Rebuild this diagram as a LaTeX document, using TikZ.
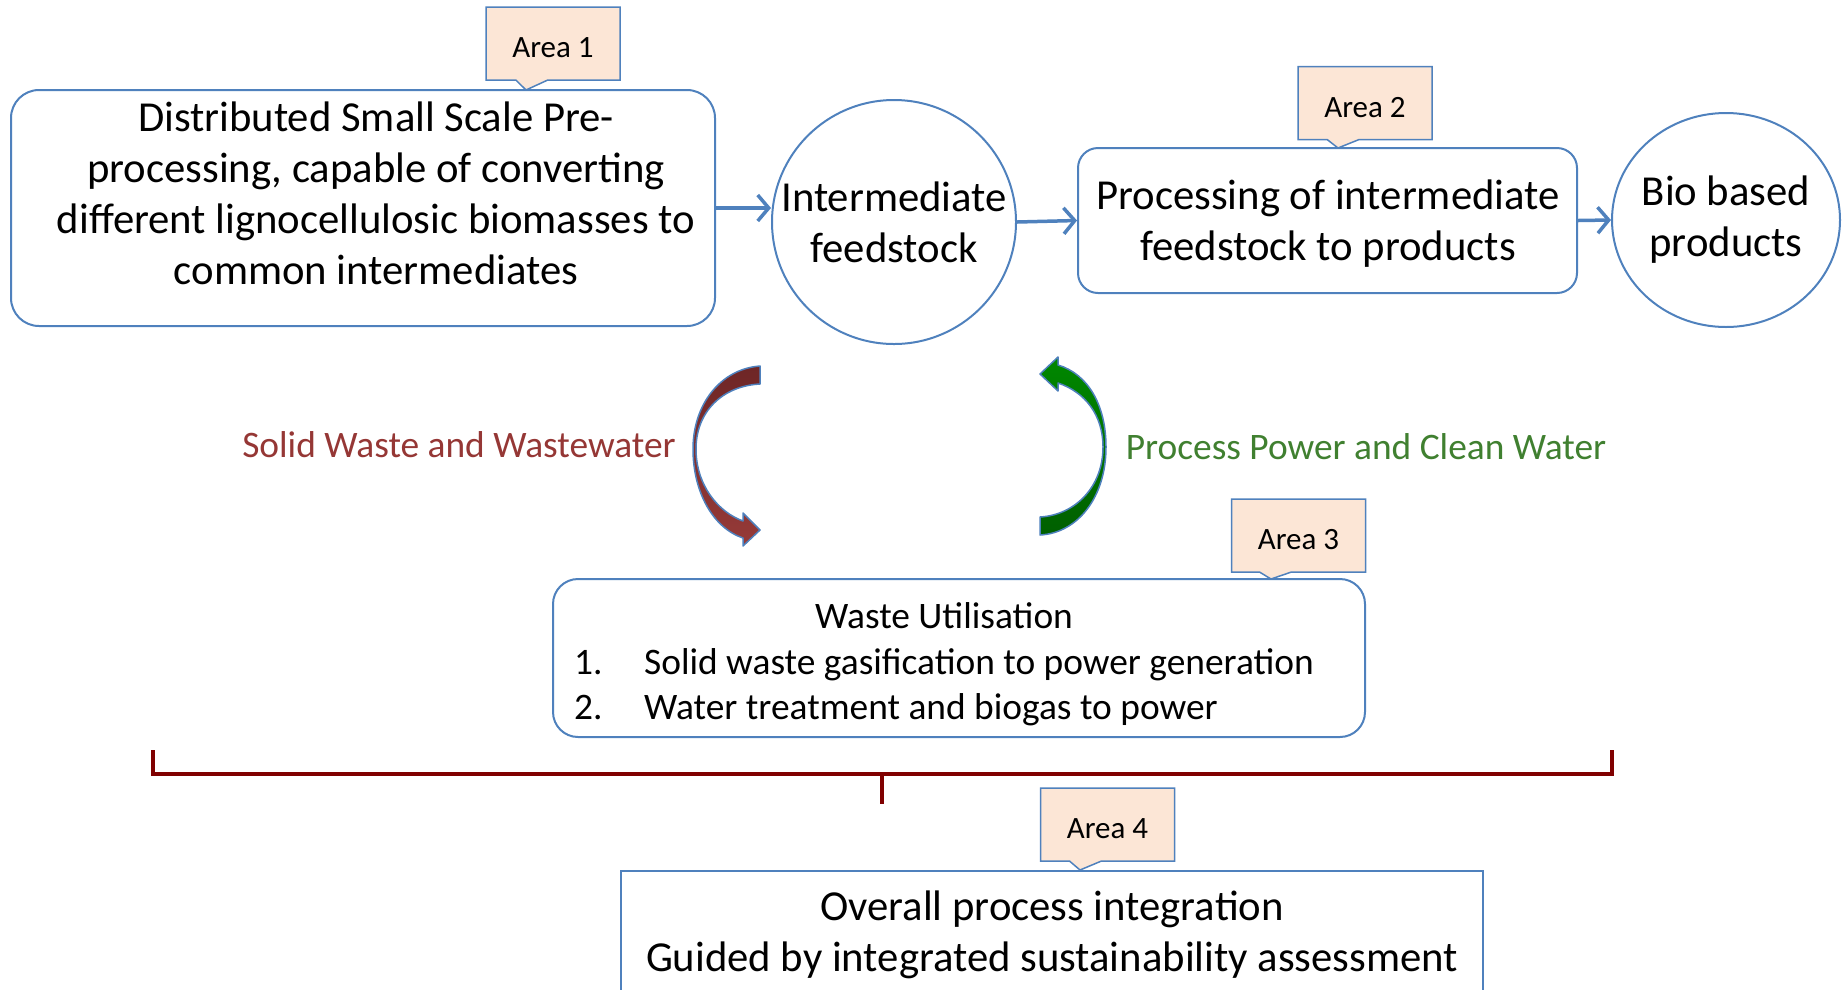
\documentclass[tikz,border=0pt]{standalone}
\usepackage{fontspec}
\setmainfont{Carlito}
\usetikzlibrary{shapes.geometric,shapes.callouts,arrows.meta}
\definecolor{bbord}{RGB}{79,129,189}
\definecolor{cfill}{RGB}{252,230,214}
\definecolor{redtxt}{RGB}{149,55,53}
\definecolor{greentxt}{RGB}{64,128,48}
\definecolor{brk}{RGB}{128,0,0}
\definecolor{redtop}{RGB}{110,38,38}
\definecolor{redbot}{RGB}{150,58,56}
\definecolor{grntop}{RGB}{0,135,0}
\definecolor{grnbot}{RGB}{0,95,0}
\tikzset{
  box/.style={draw=bbord, line width=2pt, fill=white, rounded corners=28pt, inner sep=0},
  bigtxt/.style={font=\fontsize{42.7}{51}\selectfont, align=center, inner sep=0},
  midtxt/.style={font=\fontsize{37.4}{45.5}\selectfont, inner sep=0},
  sidetxt/.style={font=\fontsize{37.4}{44}\selectfont, inner sep=0},
  area/.style={rectangle callout, draw=bbord, fill=cfill, line width=1.5pt,
    minimum width=134pt, minimum height=73pt, callout pointer width=32pt,
    font=\fontsize{31}{36}\selectfont, inner sep=0, text height=28pt, text depth=0pt},
  flow/.style={draw=bbord, line width=3.5pt, -{Straight Barb[length=11pt,width=26pt]}},
  curvy/.style={draw=bbord, line width=1.5pt, line join=round},
  bracketline/.style={draw=brk, line width=4pt}
}
\begin{document}
\begin{tikzpicture}[x=1pt,y=-1pt]
\useasboundingbox (0,0) rectangle (1844,989);

% main boxes
\node[box, minimum width=704pt, minimum height=236pt] (b1) at (363,208) {};
\node[bigtxt] (b1t) at (376,193) {Distributed Small Scale Pre-\\processing, capable of converting\\different lignocellulosic biomasses to\\common intermediates};

\node[circle, draw=bbord, line width=2pt, minimum size=244pt, inner sep=0] (c1) at (894,222) {};
\node[bigtxt] (c1t) at (894,222) {Intermediate\\feedstock};

\node[box, rounded corners=20pt, minimum width=499pt, minimum height=145pt] (b2) at (1327.5,220.5) {};
\node[bigtxt] (b2t) at (1328,224) {Processing of intermediate\\feedstock to products};

\node[ellipse, draw=bbord, line width=2pt, minimum width=228pt, minimum height=214pt, inner sep=0] (c2) at (1726,220) {};
\node[bigtxt] (c2t) at (1726,219.5) {Bio based\\products};

\node[box, rounded corners=25pt, minimum width=812pt, minimum height=158pt] (b3) at (959,658) {};
\node[midtxt] (b3t) at (944,665) {\begin{tabular}{@{}p{70pt}@{}l@{}}\multicolumn{2}{@{}c@{}}{Waste Utilisation}\\1.&Solid waste gasification to power generation\\2.&Water treatment and biogas to power\end{tabular}};

\node[draw=bbord, line width=2pt, minimum width=862pt, minimum height=150pt, anchor=north, inner sep=0] (b4) at (1052,870) {};
\node[bigtxt] (b4t) at (1052,935) {Overall process integration\\Guided by integrated sustainability assessment};

% flow arrows
\draw[flow] (b1.east) -- (b1.east -| c1.west);
\draw[flow] (c1.east) -- (b2.west);
\draw[flow] (b2.east) -- (c2.west);

% side labels
\node[sidetxt, text=redtxt] (lw) at (459,445) {Solid Waste and Wastewater};
\node[sidetxt, text=greentxt] (lp) at (1366,447) {Process Power and Clean Water};

% curved arrows
\path[curvy, top color=redtop, bottom color=redbot]
  (760,366) .. controls (720,369) and (693,405) .. (693,449)
  .. controls (693,492) and (713,528) .. (743,538)
  -- (743,546) -- (760,530) -- (743,513) -- (743,521)
  .. controls (718,512) and (696,485) .. (696,449)
  .. controls (696,412) and (722,386) .. (760,384) -- cycle;
\path[curvy, top color=grntop, bottom color=grnbot]
  (1040,535) .. controls (1078,533) and (1106,497) .. (1106,447)
  .. controls (1106,405) and (1088,374) .. (1058,365)
  -- (1058,357) -- (1040,374) -- (1058,391) -- (1058,383)
  .. controls (1085,392) and (1103,415) .. (1103,447)
  .. controls (1103,487) and (1075,515) .. (1040,517) -- cycle;

% bracket
\coordinate (brL) at (153,750);
\coordinate (brR) at (1612,750);
\coordinate (brM) at (882,774);
\draw[bracketline] (brL) -- (153,774) -- (1612,774) -- (brR);
\draw[bracketline] (brM) -- (882,804);

% area callouts
\node[area, callout absolute pointer={(526,90)}] (a1) at (553,43.5) {Area 1};
\node[area, callout absolute pointer={(1338,148)}] (a2) at (1365,103) {Area 2};
\node[area, callout absolute pointer={(1271,579)}] (a3) at (1298.5,535.5) {Area 3};
\node[area, callout absolute pointer={(1080,870)}] (a4) at (1107.5,824.5) {Area 4};
\end{tikzpicture}
\end{document}
